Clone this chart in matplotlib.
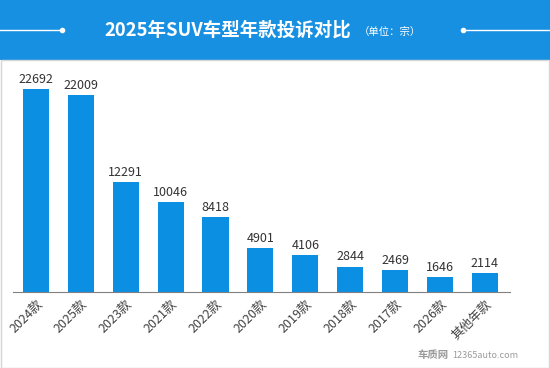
import matplotlib.pyplot as plt
from matplotlib.patches import Rectangle

plt.rcParams['font.family'] = ['Noto Sans CJK SC', 'DejaVu Sans']

# data
categories = ['2024款', '2025款', '2023款', '2021款', '2022款', '2020款',
              '2019款', '2018款', '2017款', '2026款', '其他年款']
complaints = [22692, 22009, 12291, 10046, 8418, 4901, 4106, 2844, 2469, 1646, 2114]

title = '2025年SUV车型年款投诉对比'
unit = '（单位：宗）'

W, H = 550, 368
fig = plt.figure(figsize=(W / 100, H / 100), dpi=100)
fig.patch.set_facecolor('white')

# header band and frame
fig.patches.append(Rectangle((0, 1 - 60 / H), 1, 60 / H, transform=fig.transFigure,
                             facecolor='#1890e2', edgecolor='none', zorder=0))
fig.patches.append(Rectangle((0.5 / W, 0.5 / H), 1 - 1.5 / W, 1 - 60 / H, transform=fig.transFigure,
                             facecolor='none', edgecolor='#d6d6d6', lw=1, zorder=0))

hy = 1 - 30 / H
fig.add_artist(plt.Line2D([0, 62 / W], [hy, hy], color='white', lw=1, transform=fig.transFigure))
fig.add_artist(plt.Line2D([463 / W, 1], [hy, hy], color='white', lw=1, transform=fig.transFigure))
fig.add_artist(plt.Line2D([62 / W, 463 / W], [hy, hy], color='white', lw=0, marker='o', ms=3,
                          transform=fig.transFigure))
fig.text(104 / W, hy, title, color='white', fontsize=13.3, fontweight='bold', va='center', ha='left')
fig.text(359 / W, hy - 1.5 / H, unit, color='white', fontsize=7.5, va='center', ha='left')

# chart
ax = fig.add_axes([13 / W, 1 - 292 / H, 497 / W, 222 / H])
x = list(range(len(categories)))
bars = ax.bar(x, complaints, width=0.58, color='#0b8fe3')
for xi, v in zip(x, complaints):
    ax.text(xi, v + 350, str(v), ha='center', va='bottom', fontsize=9, color='#333333')

ax.set_xlim(-0.51, 10.56)
ax.set_ylim(0, 24815)
ax.set_yticks([])
ax.set_xticks(x)
ax.set_xticklabels(categories, rotation=45, ha='right', rotation_mode='anchor',
                   fontsize=9, color='#404040')
ax.tick_params(axis='x', length=0, pad=4)
for s in ['top', 'right', 'left']:
    ax.spines[s].set_visible(False)
ax.spines['bottom'].set_color('#808080')
ax.spines['bottom'].set_linewidth(0.8)
ax.set_facecolor('none')

# watermark
fig.text(417 / W, 1 - 355 / H, '车质网', color='#9a9a9a', fontsize=7.5, fontweight='bold',
         va='center', ha='left')
fig.text(452 / W, 1 - 356 / H, '12365auto.com', color='#9a9a9a', fontsize=6.5,
         va='center', ha='left')

fig.savefig('out.png', dpi=100)
